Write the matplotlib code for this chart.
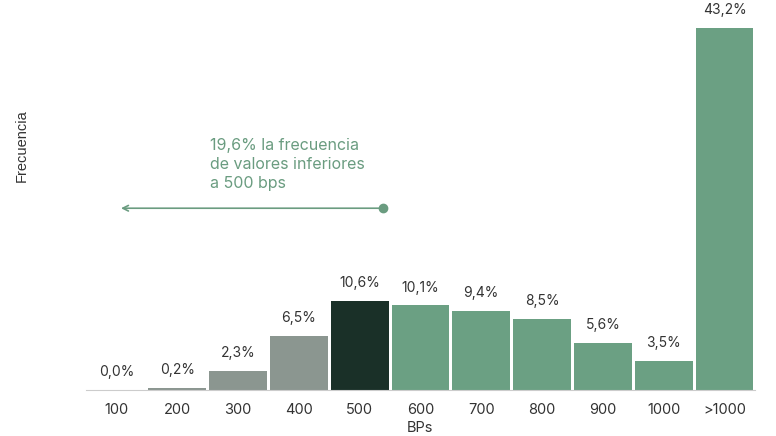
import matplotlib
matplotlib.use('Agg')
import matplotlib.pyplot as plt

plt.rcParams['font.family'] = ['Inter', 'DejaVu Sans']

categorias = ['100', '200', '300', '400', '500', '600', '700', '800', '900', '1000', '>1000']
frecuencia = [0.0, 0.2, 2.3, 6.5, 10.6, 10.1, 9.4, 8.5, 5.6, 3.5, 43.2]
etiquetas = ['0,0%', '0,2%', '2,3%', '6,5%', '10,6%', '10,1%', '9,4%', '8,5%', '5,6%', '3,5%', '43,2%']

gris = '#8b9690'
oscuro = '#1a3028'
verde = '#6ba083'
colores = [gris] * 4 + [oscuro] + [verde] * 6

fig = plt.figure(figsize=(7.76, 4.36), dpi=100)
ax = fig.add_axes([0.1108, 0.1055, 0.862, 0.830])

x = list(range(len(categorias)))
ax.bar(x, frecuencia, width=0.95, color=colores)

for xi, v, t in zip(x, frecuencia, etiquetas):
    ax.text(xi, v + 1.3, t, ha='center', va='bottom', fontsize=10, color='#333333')

ax.set_xlim(-0.5, len(categorias) - 0.5)
ax.set_ylim(0, 43.2)
ax.set_xticks(x)
ax.set_xticklabels(categorias, fontsize=10.5, color='#333333')
ax.tick_params(axis='x', length=0, pad=9)
ax.set_yticks([])
for s in ['top', 'right', 'left']:
    ax.spines[s].set_visible(False)
ax.spines['bottom'].set_color('#cccccc')
ax.set_xlabel('BPs', fontsize=10.5, color='#333333', labelpad=3)

fig.text(0.028, 0.667, 'Frecuencia', rotation=90, ha='center', va='center',
         fontsize=10.5, color='#333333', family='Liberation Sans')

# anotacion
verde_txt = '#6a9c80'
ax.annotate('', xy=(0.03, 21.7), xytext=(4.385, 21.7),
            arrowprops=dict(arrowstyle='->', color=verde_txt, lw=1.2))
ax.plot([4.385], [21.7], 'o', color=verde_txt, markersize=6)
ax.text(1.54, 30.1, '19,6% la frecuencia\nde valores inferiores\na 500 bps',
        ha='left', va='top', fontsize=11.5, color=verde_txt, linespacing=1.35)

plt.savefig('out.png', dpi=100)
